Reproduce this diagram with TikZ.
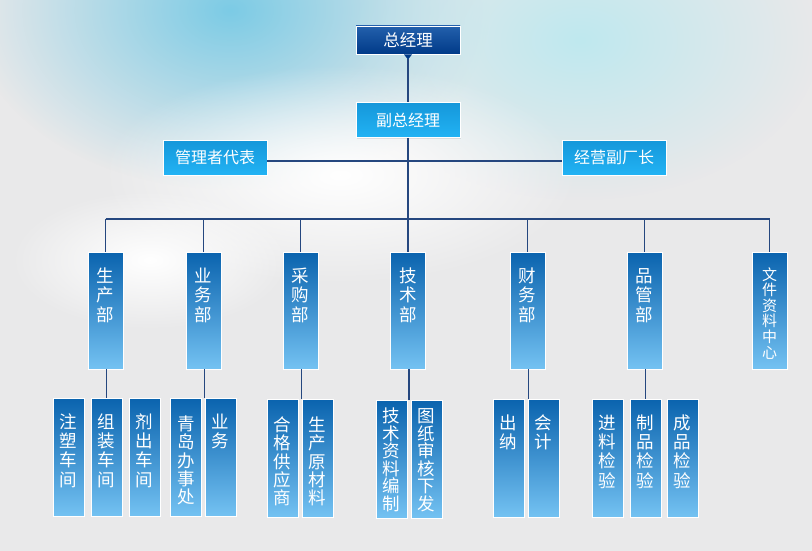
\documentclass[tikz,border=0pt]{standalone}
\usepackage{fontspec}
\setmainfont{Noto Sans CJK SC}
\usepackage{tikz}
\usetikzlibrary{fadings,shadows}
\definecolor{bggray}{HTML}{E9E9EA}
\definecolor{skyblue}{HTML}{7CCBE5}
\definecolor{skylight}{HTML}{BFE8EF}
\definecolor{navytop}{HTML}{2360AC}
\definecolor{navybot}{HTML}{003A88}
\definecolor{vicetop}{HTML}{1597DA}
\definecolor{vicebot}{HTML}{22B3F4}
\definecolor{depttop}{HTML}{0A63AE}
\definecolor{deptbot}{HTML}{74C2F2}
\definecolor{linkblue}{HTML}{25477F}
\tikzfading[name=softfade, inner color=transparent!0, outer color=transparent!100]

\begin{document}
\begin{tikzpicture}[x=1pt,y=-1pt]
      \tikzstyle{base}=[draw=white,line width=0.9pt,text=white,inner sep=0pt,
        drop shadow={opacity=0.18,shadow xshift=0.8pt,shadow yshift=-1.2pt}]
      \tikzstyle{bossbox}=[base,top color=navytop,bottom color=navybot,minimum width=104pt,minimum height=28pt,font=\fontsize{16.5}{20}\selectfont]
      \tikzstyle{vicebox}=[base,top color=vicetop,bottom color=vicebot,minimum width=104pt,minimum height=35pt,font=\fontsize{16}{20}\selectfont]
      \tikzstyle{dept}=[base,top color=depttop,bottom color=deptbot,text width=35pt,align=center,text height=30pt,text depth=87pt,font={\fontsize{17.5}{19.5}\selectfont\lineskiplimit=-20pt}]
      \tikzstyle{unit}=[base,top color=depttop,bottom color=deptbot,text width=31pt,align=center,text height=30.5pt,text depth=87.5pt,font={\fontsize{17.5}{19.2}\selectfont\lineskiplimit=-20pt}]
      \tikzstyle{five}=[text height=32.5pt,text depth=85.5pt,font={\fontsize{17.5}{18.3}\selectfont\lineskiplimit=-20pt}]
      \tikzstyle{six}=[text height=22.5pt,text depth=95.5pt,font={\fontsize{17.5}{17.6}\selectfont\lineskiplimit=-20pt}]
      \tikzstyle{link}=[draw=linkblue,line width=1.3pt]
      \useasboundingbox (0,0) rectangle (812,551);
      \fill[bggray] (0,0) rectangle (812,551);
      \fill[skyblue,path fading=softfade] (230,10) ellipse (260 and 180);
      \fill[skylight,path fading=softfade] (580,40) ellipse (240 and 160);
      \fill[white,path fading=softfade] (340,175) ellipse (240 and 110);
      \fill[white,path fading=softfade] (150,260) ellipse (140 and 70);
      \node[bossbox] (zjl) at (408,40) {总经理};
      \node[vicebox] (fzjl) at (408,120) {副总经理};
      \node[vicebox] (glz) at (215,157.5) {管理者代表};
      \node[vicebox] (jyc) at (614,157.5) {经营副厂长};
      \node[dept] (scb) at (105.5,310.5) {生\\产\\部};
      \node[dept] (ywb) at (203.5,310.5) {业\\务\\部};
      \node[dept] (cgb) at (300.5,310.5) {采\\购\\部};
      \node[dept] (jsb) at (408,310.5) {技\\术\\部};
      \node[dept] (cwb) at (527.5,310.5) {财\\务\\部};
      \node[dept] (pgb) at (644.5,310.5) {品\\管\\部};
      \node[dept,text height=28pt,text depth=89pt,font={\fontsize{15}{15.6}\selectfont\lineskiplimit=-20pt}] (wjzx) at (769.5,310.5) {文\\件\\资\\料\\中\\心};
      \node[unit] (zs) at (68.5,457) {注\\塑\\车\\间};
      \node[unit] (zz) at (106.5,457) {组\\装\\车\\间};
      \node[unit] (jc) at (144.5,457) {剂\\出\\车\\间};
      \node[unit,five] (qd) at (186,457) {青\\岛\\办\\事\\处};
      \node[unit] (yw) at (220.5,457) {业\\务};
      \node[unit,five] (hg) at (282.5,458) {合\\格\\供\\应\\商};
      \node[unit,five] (sc) at (317.5,458) {生\\产\\原\\材\\料};
      \node[unit,six] (jszl) at (391.5,459) {技\\术\\资\\料\\编\\制};
      \node[unit,six] (tz) at (426.5,459) {图\\纸\\审\\核\\下\\发};
      \node[unit] (cn) at (508.5,458) {出\\纳};
      \node[unit] (kj) at (543.5,458) {会\\计};
      \node[unit] (jl) at (607.5,458) {进\\料\\检\\验};
      \node[unit] (zp) at (645.5,458) {制\\品\\检\\验};
      \node[unit] (cp) at (682.5,458) {成\\品\\检\\验};
      \coordinate (busl) at (105.5,219);
      \coordinate (busr) at (769.5,219);
      \fill[navybot] ([xshift=-4pt]zjl.south) -- ([xshift=4pt]zjl.south) -- ([yshift=-5pt]zjl.south) -- cycle;
      \draw[link] ([yshift=-5pt]zjl.south) -- (fzjl.north);
      \draw[link] (fzjl.south) -- (jsb.north);
      \draw[link] ([yshift=-3.5pt]glz.east) -- ([yshift=-3.5pt]jyc.west);
      \draw[link] (busl) -- (busr);
      \foreach \d in {scb,ywb,cgb,cwb,pgb,wjzx}
        \draw[link] (\d.north |- busl) -- (\d.north);
      \foreach \d/\c in {scb/zz,ywb/qd,cgb/hg,jsb/jszl,cwb/cn,pgb/zp}
        \draw[link] ([xshift=1pt]\d.south) -- ([xshift=1pt]\d.south |- \c.north);
\end{tikzpicture}
\end{document}
